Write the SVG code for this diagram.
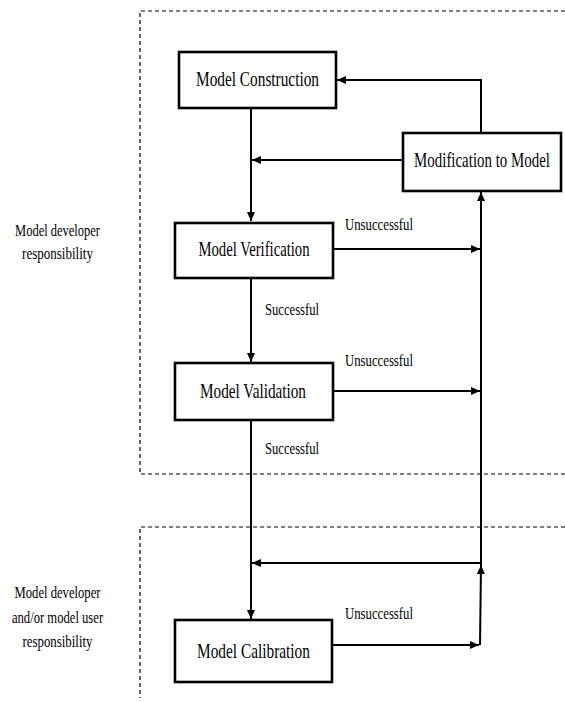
<svg xmlns="http://www.w3.org/2000/svg" width="565" height="702" viewBox="0 0 565 702">
<style>
.box{fill:#fff;stroke:#000;stroke-width:2.6}
.dash{fill:none;stroke:#000;stroke-width:1.2;stroke-dasharray:4 3}
.con{fill:none;stroke:#000;stroke-width:2}
.t{font-family:"Liberation Serif","Times New Roman",serif;fill:#000;text-anchor:middle}
.bt{font-size:21px}
.et{font-size:17px}
.lt{font-size:16px}
</style>
<defs>
<marker id="ah" markerUnits="userSpaceOnUse" markerWidth="10" markerHeight="8" refX="9" refY="4" orient="auto">
<path d="M0,0 L9,4 L0,8 z" fill="#000"/>
</marker>
</defs>
<g id="regions">
<path class="dash" d="M565,11 H140 V474 H565"/>
<path class="dash" d="M565,527 H140 V698"/>
</g>
<g id="region-labels">
<text class="t lt" transform="translate(57.5,236) scale(0.78,1)">Model developer</text>
<text class="t lt" transform="translate(57.5,259) scale(0.815,1)">responsibility</text>
<text class="t lt" transform="translate(57.5,598) scale(0.79,1)">Model developer</text>
<text class="t lt" transform="translate(57.5,623) scale(0.79,1)">and/or model user</text>
<text class="t lt" transform="translate(57.5,647) scale(0.805,1)">responsibility</text>
</g>
<g id="connectors">
<path class="con" d="M251,108 V221" marker-end="url(#ah)"/>
<path class="con" d="M403,160 H252" marker-end="url(#ah)"/>
<path class="con" d="M481,133 V80 H337" marker-end="url(#ah)"/>
<path class="con" d="M333,249 H480" marker-end="url(#ah)"/>
<path class="con" d="M251,278 V362" marker-end="url(#ah)"/>
<path class="con" d="M333,391 H480" marker-end="url(#ah)"/>
<path class="con" d="M481,565 V192" marker-end="url(#ah)"/>
<path class="con" d="M480,645 L481,565" marker-end="url(#ah)"/>
<path class="con" d="M251,420 V619" marker-end="url(#ah)"/>
<path class="con" d="M481,563 H252" marker-end="url(#ah)"/>
<path class="con" d="M332,645 H479" marker-end="url(#ah)"/>
<text class="t et" transform="translate(379,230) scale(0.75,1)">Unsuccessful</text>
<text class="t et" transform="translate(292,315) scale(0.743,1)">Successful</text>
<text class="t et" transform="translate(379,366) scale(0.75,1)">Unsuccessful</text>
<text class="t et" transform="translate(292,454) scale(0.743,1)">Successful</text>
<text class="t et" transform="translate(379,619) scale(0.75,1)">Unsuccessful</text>
</g>
<g id="model-construction">
<rect class="box" x="179" y="52" width="157" height="56"/>
<text class="t bt" transform="translate(257.5,86) scale(0.73,1)">Model Construction</text>
</g>
<g id="modification-to-model">
<rect class="box" x="403" y="133" width="158" height="58"/>
<text class="t bt" transform="translate(482,167) scale(0.711,1)">Modification to Model</text>
</g>
<g id="model-verification">
<rect class="box" x="175" y="223" width="158" height="55"/>
<text class="t bt" transform="translate(254,256) scale(0.70,1)">Model Verification</text>
</g>
<g id="model-validation">
<rect class="box" x="175" y="363" width="158" height="57"/>
<text class="t bt" transform="translate(253,398) scale(0.726,1)">Model Validation</text>
</g>
<g id="model-calibration">
<rect class="box" x="175" y="620" width="157" height="62"/>
<text class="t bt" transform="translate(253.5,658) scale(0.731,1)">Model Calibration</text>
</g>
</svg>
